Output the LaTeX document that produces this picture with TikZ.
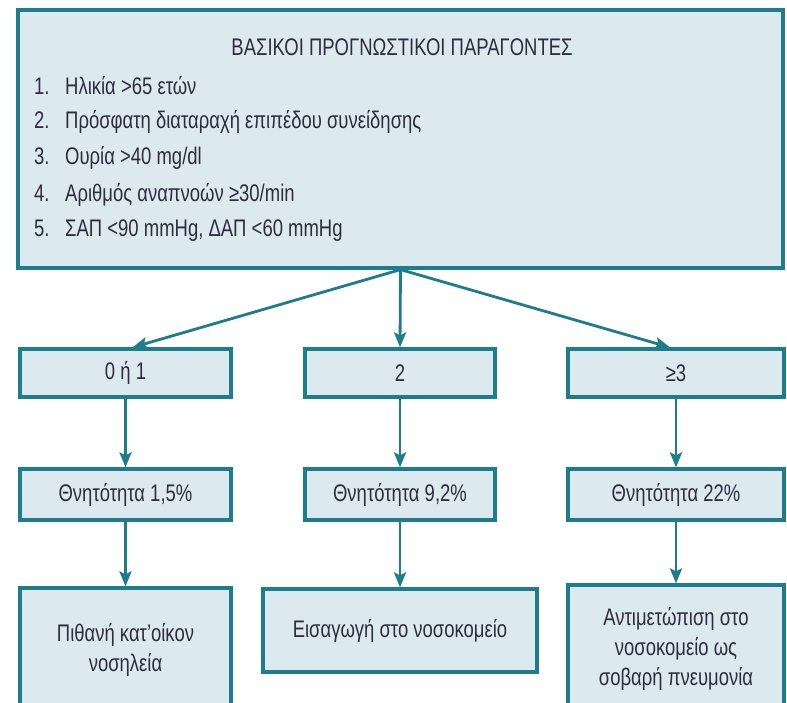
\documentclass[tikz,border=0pt]{standalone}
\usepackage{fontspec}
\setmainfont{Liberation Sans}[FakeStretch=0.77]
\usetikzlibrary{arrows.meta,calc}
\definecolor{boxfill}{HTML}{DCEAEF}
\definecolor{teal1}{HTML}{1D7D8C}
\definecolor{txt}{HTML}{2E2C40}
\begin{document}
\begin{tikzpicture}[x=1pt,y=-1pt,
  box/.style={draw=teal1,fill=boxfill,line width=3.2pt,rectangle,inner sep=0pt,text=txt,align=center,font=\fontsize{24}{30}\selectfont},
  conn/.style={draw=teal1,line width=2.8pt,-{Stealth[length=15pt,width=12pt,inset=3pt]}},
  lbl/.style={text=txt,anchor=west,inner sep=0pt,font=\fontsize{24}{28}\selectfont}]
\clip (0,0) rectangle (787,702);
\fill[white] (0,0) rectangle (787,702);
% top box
\node[box,minimum width=765pt,minimum height=258pt] (top) at (400.5,139) {};
\node[text=txt,inner sep=0pt,font=\fontsize{24}{28}\selectfont] (title) at (402,47) {ΒΑΣΙΚΟΙ ΠΡΟΓΝΩΣΤΙΚΟΙ ΠΑΡΑΓΟΝΤΕΣ};
\node[lbl] (l1) at (34,86) {\makebox[31pt][l]{1.}Ηλικία >65 ετών};
\node[lbl] (l2) at (34,122) {\makebox[31pt][l]{2.}Πρόσφατη διαταραχή επιπέδου συνείδησης};
\node[lbl] (l3) at (34,158) {\makebox[31pt][l]{3.}Ουρία >40 mg/dl};
\node[lbl] (l4) at (34,195) {\makebox[31pt][l]{4.}Αριθμός αναπνοών ≥30/min};
\node[lbl] (l5) at (34,231) {\makebox[31pt][l]{5.}ΣΑΠ <90 mmHg, ΔΑΠ <60 mmHg};
% row 1
\node[box,minimum width=211pt,minimum height=48pt] (a1) at (125.5,373) {0 ή 1};
\node[box,minimum width=190pt,minimum height=48pt] (a2) at (400,373) {2};
\node[box,minimum width=216pt,minimum height=48pt] (a3) at (676,373) {≥3};
% row 2
\node[box,minimum width=211pt,minimum height=51pt] (b1) at (125.5,494.5) {Θνητότητα 1,5\%};
\node[box,minimum width=190pt,minimum height=51pt] (b2) at (400,494.5) {Θνητότητα 9,2\%};
\node[box,minimum width=216pt,minimum height=51pt] (b3) at (676,494.5) {Θνητότητα 22\%};
% row 3
\node[box,minimum width=211pt,minimum height=124pt] (c1) at (125.5,650) {Πιθανή κατ’οίκον\\νοσηλεία};
\node[box,minimum width=274pt,minimum height=83pt] (c2) at (400,630.5) {Εισαγωγή στο νοσοκομείο};
\node[box,minimum width=216pt,minimum height=127pt] (c3) at (676,648.5) {Αντιμετώπιση στο\\νοσοκομείο ως\\σοβαρή πνευμονία};
% connectors
\coordinate (t1) at ($(a1.north)+(7,0)$);
\coordinate (t3) at ($(a3.north)+(-6,0)$);
\draw[conn] (top.south) -- (t1);
\draw[conn] (top.south) -- (a2.north);
\draw[conn] (top.south) -- (t3);
\draw[conn] (a1.south) -- (b1.north);
\draw[conn] (a2.south) -- (b2.north);
\draw[conn] (a3.south) -- (b3.north);
\draw[conn] (b1.south) -- (c1.north);
\draw[conn] (b2.south) -- (c2.north);
\draw[conn] (b3.south) -- (c3.north);
\end{tikzpicture}
\end{document}
